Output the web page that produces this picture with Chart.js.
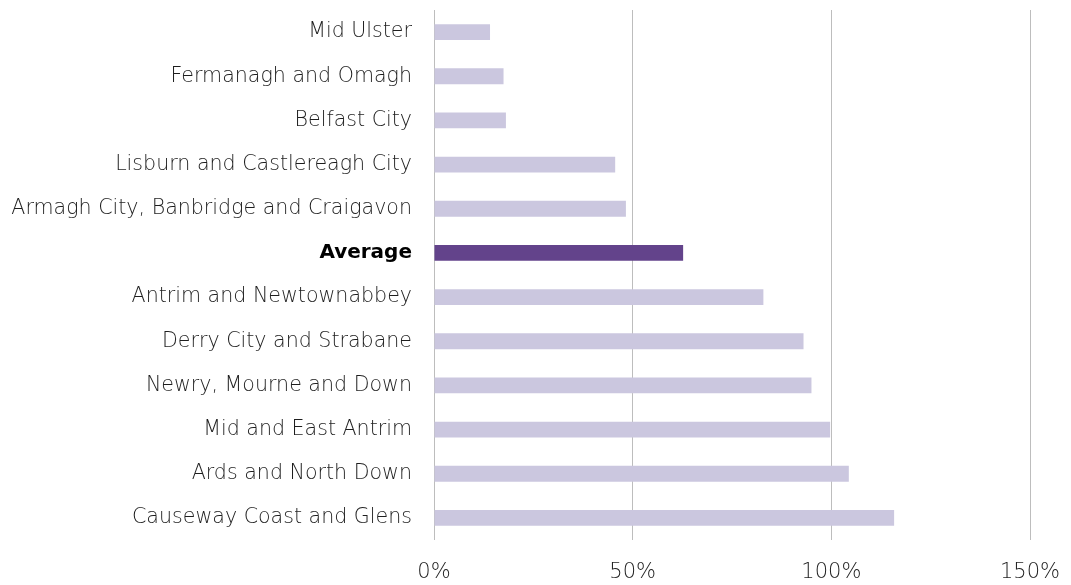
<!DOCTYPE html>
<html>
<head>
<meta charset="utf-8">
<script src="https://cdn.jsdelivr.net/npm/chart.js@4.4.1/dist/chart.umd.min.js"></script>
<style>
  html, body { margin: 0; padding: 0; background: #fff; }
  #wrap { width: 1071px; height: 585px; }
</style>
</head>
<body>
<div id="wrap"><canvas id="chart"></canvas></div>
<script>
// Council areas, top to bottom
const councils = [
  'Mid Ulster',
  'Fermanagh and Omagh',
  'Belfast City',
  'Lisburn and Castlereagh City',
  'Armagh City, Banbridge and Craigavon',
  'Average',
  'Antrim and Newtownabbey',
  'Derry City and Strabane',
  'Newry, Mourne and Down',
  'Mid and East Antrim',
  'Ards and North Down',
  'Causeway Coast and Glens'
]

// Percentages
const percentValues = [14.1, 17.5, 18.1, 45.6, 48.3, 62.7, 82.9, 93.0, 95.0, 99.7, 104.4, 115.8]

const xTicks = [0, 50, 100, 150]

const FONT = '"DejaVu Sans", Lato, sans-serif'
const isAverage = i => councils[i] === 'Average'

new Chart(document.getElementById('chart'), {
  type: 'bar',
  data: {
    labels: councils,
    datasets: [{
      data: percentValues,
      backgroundColor: councils.map((c, i) => isAverage(i) ? '#63438b' : '#cbc7df'),
      borderWidth: 0,
      categoryPercentage: 1,
      barPercentage: 0.36
    }]
  },
  options: {
    indexAxis: 'y',
    responsive: true,
    maintainAspectRatio: false,
    animation: false,
    layout: { padding: { top: 10, right: 41, left: 0, bottom: 0 } },
    plugins: {
      legend: { display: false },
      tooltip: { enabled: false }
    },
    scales: {
      x: {
        min: 0,
        max: 150,
        afterBuildTicks: scale => {
          scale.ticks = xTicks.map(v => ({ value: v }))
        },
        afterFit: scale => {
          scale.height = 45
          scale.paddingRight = 0
        },
        grid: { color: '#bdbdbd', lineWidth: 1, drawTicks: false },
        border: { display: false },
        ticks: {
          padding: 20,
          color: '#1e1e1e',
          font: { family: FONT, size: 21, weight: 200 },
          callback: v => v + '%'
        }
      },
      y: {
        afterFit: scale => {
          scale.width = 434
          scale.paddingTop = 0
          scale.paddingBottom = 0
        },
        grid: { display: false, drawTicks: false },
        border: { display: false },
        ticks: {
          padding: 22,
          color: ctx => isAverage(ctx.index) ? '#000' : '#1e1e1e',
          font: ctx => isAverage(ctx.index)
            ? { family: FONT, size: 20, weight: 'bold' }
            : { family: FONT, size: 20.6, weight: 200 }
        }
      }
    }
  }
})
</script>
</body>
</html>
